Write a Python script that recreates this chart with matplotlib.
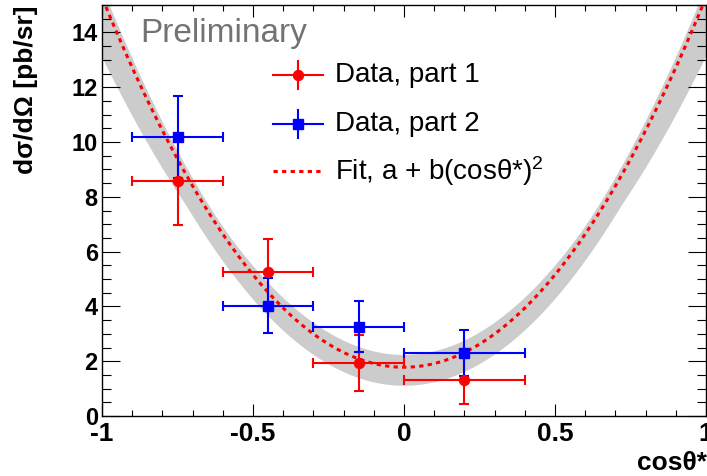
import numpy as np
import matplotlib
matplotlib.use("Agg")
import matplotlib.pyplot as plt
from matplotlib.ticker import MultipleLocator

plt.rcParams["font.family"] = ["Liberation Sans", "DejaVu Sans"]
plt.rcParams["mathtext.fontset"] = "custom"
plt.rcParams["mathtext.rm"] = "Liberation Sans"
plt.rcParams["mathtext.it"] = "Liberation Sans:italic"
plt.rcParams["mathtext.bf"] = "Liberation Sans:bold"

# Measured points: bin centres, half widths, values and errors
cos_centers = [-0.75, -0.45, -0.15, 0.2]
cos_halfwidth = [0.15, 0.15, 0.15, 0.2]
part1_values = [8.56, 5.25, 1.93, 1.32]
part1_errors = [1.60, 1.20, 1.02, 0.88]
part2_values = [10.17, 4.03, 3.26, 2.29]
part2_errors = [1.50, 1.00, 0.93, 0.84]

# Fit a + b cos^2 and the parameter variations forming the uncertainty band
fit_a = 1.78
fit_b = 13.5
band_a = [1.78, 2.08, 1.25, 2.00]
band_b = [13.5, 12.7, 12.94, 11.45]

x_ticks = [-1, -0.5, 0, 0.5, 1]
x_ticklabels = ["-1", "-0.5", "0", "0.5", "1"]
y_ticks = [0, 2, 4, 6, 8, 10, 12, 14]

W, H = 707, 476
fig = plt.figure(figsize=(W / 100, H / 100), dpi=100)
ax = fig.add_axes([102 / W, 60 / H, 604 / W, 411 / H])
ax.set_xlim(-1, 1)
ax.set_ylim(0, 15)

xs = np.linspace(-1, 1, 600)
band_curves = np.array([a + b * xs ** 2 for a, b in zip(band_a, band_b)])

# uncertainty band: solid core plus thick grey curves
band_col = "#cccccc"
ax.fill_between(xs, band_curves.min(axis=0), band_curves.max(axis=0),
                color=band_col, lw=0, zorder=1)
for curve in band_curves:
    ax.plot(xs, curve, color=band_col, lw=5.8, solid_capstyle="butt", zorder=1)

# fitted curve
ax.plot(xs, fit_a + fit_b * xs ** 2, color="#ff0000", lw=2.2,
        linestyle=(0, (1.4, 1.4)), zorder=2)

ebar_kw = dict(lw=1.5, capsize=3.6, capthick=1.5, zorder=3)
ax.errorbar(cos_centers, part1_values, xerr=cos_halfwidth, yerr=part1_errors,
            fmt="o", color="#ff0000", ms=7.2, **ebar_kw)
ax.errorbar(cos_centers, part2_values, xerr=cos_halfwidth, yerr=part2_errors,
            fmt="s", color="#0000ff", ms=6.8, **ebar_kw)

# legend drawn in axes coordinates
lx0, lx1 = 0.283, 0.366
lxc = 0.5 * (lx0 + lx1)
tx = 0.386
rows = [0.830, 0.710, 0.596]
for yrow, col, mk in [(rows[0], "#ff0000", "o"), (rows[1], "#0000ff", "s")]:
    ax.plot([lx0, lx1], [yrow, yrow], color=col, lw=1.5, transform=ax.transAxes,
            clip_on=False, zorder=5)
    ax.plot([lxc, lxc], [yrow - 0.034, yrow + 0.034], color=col, lw=1.5,
            transform=ax.transAxes, clip_on=False, zorder=5)
    ax.plot([lxc], [yrow], marker=mk, color=col, ms=7.2 if mk == "o" else 6.8,
            transform=ax.transAxes, clip_on=False, zorder=6)
ax.plot([lx0, lx1], [rows[2], rows[2]], color="#ff0000", lw=2.2,
        linestyle=(0, (1.4, 1.4)), transform=ax.transAxes, zorder=5)
ax.text(tx, rows[0], "Data, part 1", fontsize=20, va="center", ha="left",
        transform=ax.transAxes)
ax.text(tx, rows[1], "Data, part 2", fontsize=20, va="center", ha="left",
        transform=ax.transAxes)
ax.text(tx, rows[2], r"Fit, a + b(cosθ*)$^{2}$", fontsize=20, va="center",
        ha="left", transform=ax.transAxes)

ax.text(0.063, 0.910, "Preliminary", fontsize=24, color="#737373",
        ha="left", va="baseline", transform=ax.transAxes)

# axes styling
for s in ax.spines.values():
    s.set_linewidth(1.0)
ax.set_xticks(x_ticks)
ax.set_xticklabels(x_ticklabels)
ax.set_yticks(y_ticks)
ax.xaxis.set_minor_locator(MultipleLocator(0.1))
ax.yaxis.set_minor_locator(MultipleLocator(0.5))
ax.tick_params(axis="both", which="both", direction="in", top=True, right=True,
               width=0.8)
ax.tick_params(axis="x", which="major", length=8.4, pad=4, labelsize=19)
ax.tick_params(axis="x", which="minor", length=4.1)
ax.tick_params(axis="y", which="major", length=12.7, pad=3, labelsize=17)
ax.tick_params(axis="y", which="minor", length=6.3)
for lab in ax.get_xticklabels() + ax.get_yticklabels():
    lab.set_fontweight("bold")

fig.text(25.5 / W, 1 - 5 / H, "dσ/dΩ [pb/sr]", rotation=90, fontsize=19,
         fontweight="bold", ha="center", va="top")
fig.text(1.0, 1 - 470 / H, "cosθ*", fontsize=19, fontweight="bold",
         ha="right", va="baseline")

fig.savefig("out.png", dpi=100)
